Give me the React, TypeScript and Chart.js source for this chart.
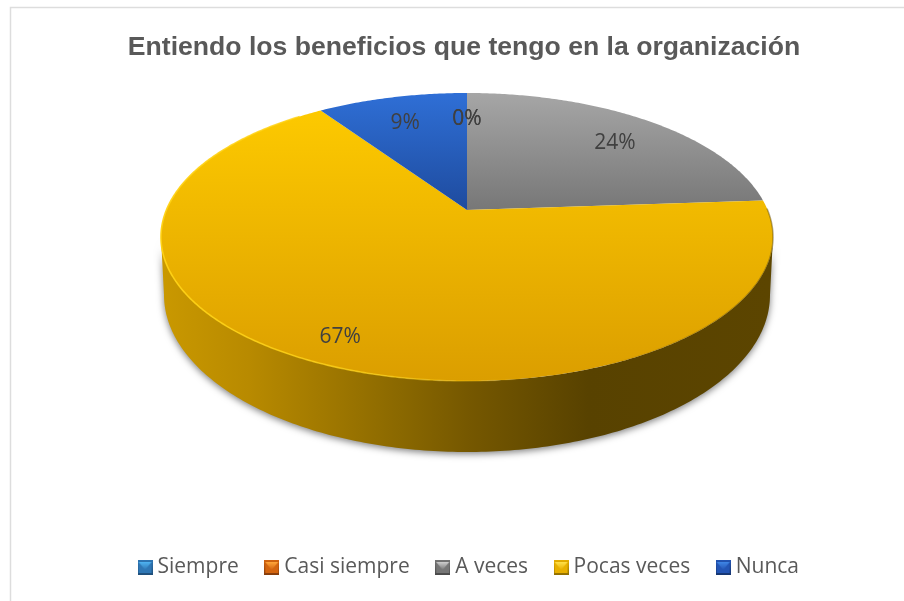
import React, { useEffect, useRef } from "react";
import { Chart, registerables } from "chart.js";

Chart.register(...registerables);

const TITLE = "Entiendo los beneficios que tengo en la organización";
const categories = ["Siempre", "Casi siempre", "A veces", "Pocas veces", "Nunca"];
const values = [0, 0, 23.9, 66.6, 9.5];
const labelTexts = ["0%", "0%", "24%", "67%", "9%"];
const labelRadii = [0.8, 0.8, 0.8, 0.83, 0.8];
const topLight = ["#5B9BD5", "#ED7D31", "#A6A6A6", "#FFCC00", "#2F6FD6"];
const topDark = ["#2E75B6", "#C55A11", "#777777", "#DB9E00", "#1E4B9E"];
const markerLight = ["#4FB4F2", "#FFA63A", "#CFCFCF", "#FFE04A", "#3F86E6"];
const markerMid = ["#2F77B5", "#D4650F", "#767676", "#E8B000", "#2355B5"];
const markerDark = ["#1F4E79", "#843C0C", "#4A4A4A", "#8F6E00", "#16356F"];
const wallStops: [number, string][] = [
  [0, "#C99800"],
  [0.14, "#B88A00"],
  [0.39, "#8A6800"],
  [0.5, "#765800"],
  [0.7, "#584200"],
  [1, "#5C4500"],
];

// projection of the pie's disc onto the tilted plane
const R = 100;
const TIP_Y = 210;
const PERSP = 0.1875;
const KX = 3.006;
const KY = -0.9956;
const LOWER_CY = 295;
const LOWER_RX = 303;
const LOWER_RY = 157;
const FRONT_START = Math.acos(-PERSP);
const FRONT_END = 2 * Math.PI - FRONT_START;

function project(cx: number, theta: number, r = 1) {
  const u = Math.sin(theta) * r;
  const v = Math.cos(theta) * r;
  const d = 1 + PERSP * v;
  return { x: cx + (R * KX * u) / d, y: (TIP_Y + R * KY * v) / d };
}

function lowerRim(cx: number, theta: number) {
  const phi = ((theta - FRONT_START) / (FRONT_END - FRONT_START)) * Math.PI;
  return { x: cx + LOWER_RX * Math.cos(phi), y: LOWER_CY + LOWER_RY * Math.sin(phi) };
}

function traceRim(ctx: CanvasRenderingContext2D, cx: number, a: number, b: number, move: boolean) {
  const n = Math.max(2, Math.ceil(Math.abs(b - a) / 0.01));
  for (let i = 0; i <= n; i++) {
    const p = project(cx, a + ((b - a) * i) / n);
    if (i === 0 && move) ctx.moveTo(p.x, p.y);
    else ctx.lineTo(p.x, p.y);
  }
}

const pie3d = {
  id: "pie3d",
  afterLayout(chart: any) {
    chart.legend.left += 8;
    chart.titleBlock.left -= 6;
  },
  beforeDatasetDraw(chart: any, args: any) {
    const ctx: CanvasRenderingContext2D = chart.ctx;
    const arcs = chart.getDatasetMeta(args.index).data;
    const cx = arcs[0].x;
    ctx.save();

    // side wall, only where a slice faces the viewer
    const wall = ctx.createLinearGradient(cx - 303, 0, cx + 303, 0);
    wallStops.forEach(([o, c]) => wall.addColorStop(o, c));
    arcs.forEach((arc: any) => {
      const a = Math.max(arc.startAngle + Math.PI / 2, FRONT_START);
      const b = Math.min(arc.endAngle + Math.PI / 2, FRONT_END);
      if (b <= a) return;
      ctx.beginPath();
      traceRim(ctx, cx, a, b, true);
      const n = 200;
      for (let i = 0; i <= n; i++) {
        const p = lowerRim(cx, b + ((a - b) * i) / n);
        ctx.lineTo(p.x, p.y);
      }
      ctx.closePath();
      ctx.save();
      ctx.shadowColor = "rgba(0,0,0,0.5)";
      ctx.shadowBlur = 7;
      ctx.shadowOffsetY = 2;
      ctx.fillStyle = wall;
      ctx.fill();
      ctx.restore();
    });

    // top faces
    arcs.forEach((arc: any, i: number) => {
      const a = arc.startAngle + Math.PI / 2;
      const b = arc.endAngle + Math.PI / 2;
      if (b - a < 1e-6) return;
      ctx.beginPath();
      const tip = project(cx, 0, 0);
      ctx.moveTo(tip.x, tip.y);
      traceRim(ctx, cx, a, b, false);
      ctx.closePath();
      const yBottom = i === 3 ? 381 : TIP_Y;
      const g = ctx.createLinearGradient(0, 93, 0, yBottom);
      g.addColorStop(0, topLight[i]);
      g.addColorStop(1, topDark[i]);
      ctx.fillStyle = g;
      ctx.fill();
    });

    // bright bevel on the front-left rim
    const rim = ctx.createLinearGradient(cx - 306, 0, cx + 60, 0);
    rim.addColorStop(0, "rgba(255,210,20,0.95)");
    rim.addColorStop(0.6, "rgba(255,210,20,0.7)");
    rim.addColorStop(1, "rgba(255,210,20,0)");
    ctx.beginPath();
    traceRim(ctx, cx, Math.PI * 0.9, Math.PI * 1.78, true);
    ctx.strokeStyle = rim;
    ctx.lineWidth = 1.6;
    ctx.stroke();
    // soft dark edge on the front-right rim
    const edge = ctx.createLinearGradient(cx + 100, 0, cx + 306, 0);
    edge.addColorStop(0, "rgba(90,68,0,0)");
    edge.addColorStop(1, "rgba(90,68,0,0.45)");
    ctx.beginPath();
    traceRim(ctx, cx, FRONT_START - 0.2, Math.PI * 0.9, true);
    ctx.strokeStyle = edge;
    ctx.lineWidth = 1.5;
    ctx.stroke();

    // data labels
    ctx.fillStyle = "#404040";
    ctx.font = '21px "Open Sans"';
    ctx.textAlign = "center";
    ctx.textBaseline = "middle";
    arcs.forEach((arc: any, i: number) => {
      const mid = (arc.startAngle + arc.endAngle) / 2 + Math.PI / 2;
      const p = project(cx, mid, labelRadii[i]);
      ctx.fillText(labelTexts[i], p.x, p.y + 6);
    });
    ctx.restore();
    return false;
  },
  beforeDraw(chart: any) {
    const ctx: CanvasRenderingContext2D = chart.ctx;
    ctx.save();
    ctx.fillStyle = "#FFFFFF";
    ctx.fillRect(0, 0, chart.width, chart.height);
    ctx.strokeStyle = "#DDDDDD";
    ctx.lineWidth = 1.5;
    ctx.beginPath();
    ctx.moveTo(10.5, chart.height);
    ctx.lineTo(10.5, 7.5);
    ctx.lineTo(chart.width, 7.5);
    ctx.stroke();
    ctx.restore();
  },
};

function markerImage(i: number) {
  const s = 15;
  const c = document.createElement("canvas");
  c.width = s;
  c.height = s;
  const g = c.getContext("2d") as CanvasRenderingContext2D;
  const body = g.createLinearGradient(0, 0, 0, s);
  body.addColorStop(0, markerMid[i]);
  body.addColorStop(1, markerDark[i]);
  g.fillStyle = body;
  g.fillRect(0, 0, s, s);
  g.fillStyle = markerMid[i];
  g.fillRect(1, 2, s - 2, s - 4);
  const light = g.createLinearGradient(0, 2, 0, 10);
  light.addColorStop(0, markerLight[i]);
  light.addColorStop(1, markerMid[i]);
  g.fillStyle = light;
  g.beginPath();
  g.moveTo(1, 2);
  g.lineTo(s - 1, 2);
  g.lineTo(s / 2, 10);
  g.closePath();
  g.fill();
  return c;
}

export default function App() {
  const ref = useRef<HTMLCanvasElement | null>(null);
  useEffect(() => {
    const markers = categories.map((_, i) => markerImage(i));
    const chart = new Chart(ref.current as HTMLCanvasElement, {
      type: "pie",
      data: {
        labels: categories,
        datasets: [{ data: values, backgroundColor: topLight, borderWidth: 0 }],
      },
      plugins: [pie3d],
      options: {
        animation: false,
        responsive: false,
        radius: R,
        layout: { padding: { left: 30, right: 0, top: 0, bottom: 13 } },
        plugins: {
          tooltip: { enabled: false },
          title: {
            display: true,
            text: TITLE,
            color: "#595959",
            font: { family: '"Liberation Sans"', size: 26.6, weight: "bold" },
            padding: { top: 32, bottom: 10 },
            align: "center",
          },
          legend: {
            position: "bottom",
            labels: {
              color: "#595959",
              font: { family: '"Open Sans"', size: 21 },
              usePointStyle: true,
              pointStyleWidth: 4,
              padding: 31,
              generateLabels: () =>
                categories.map((text, i) => ({
                  text,
                  fillStyle: topLight[i],
                  strokeStyle: topLight[i],
                  lineWidth: 0,
                  hidden: false,
                  index: i,
                  pointStyle: markers[i],
                  fontColor: "#595959",
                })),
            },
          },
        },
      } as any,
    });
    return () => chart.destroy();
  }, []);
  return (
    <div style={{ position: "fixed", left: 0, top: 0, width: 904, height: 601 }}>
      <canvas ref={ref} width={904} height={601} style={{ display: "block" }} />
    </div>
  );
}
